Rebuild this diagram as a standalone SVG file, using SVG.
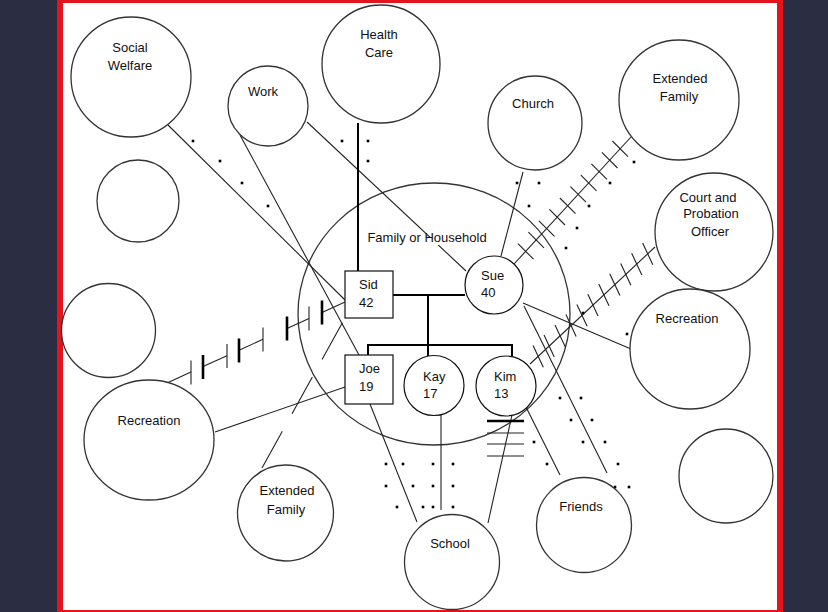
<svg xmlns="http://www.w3.org/2000/svg" width="828" height="612" viewBox="0 0 828 612">
<style>
.c{fill:#fff;stroke:#333;stroke-width:1.3}
.b{fill:#fff;stroke:#111;stroke-width:1.2}
.t{font-family:"Liberation Sans",Arial,sans-serif;font-size:13px;fill:#111}
.m{text-anchor:middle}
.l{stroke:#222;stroke-width:1.1;fill:none}
.k{stroke:#000;stroke-width:2;fill:none}
.h{stroke:#222;stroke-width:1.1}
.hk{stroke:#000;stroke-width:2.6}
.d{fill:#000}
</style>
<defs>
<rect id="dot" x="-1.3" y="-1.3" width="2.6" height="2.6"/>
</defs>
<rect x="0" y="0" width="828" height="612" fill="#2b2d42"/>
<rect x="57" y="0" width="726" height="612" fill="#e3141b"/>
<rect x="63" y="3" width="714" height="607" fill="#fff"/>

<g id="household">
<ellipse class="c" cx="434" cy="314" rx="136" ry="131"/>
</g>

<g id="connectors">
<line class="l" x1="168" y1="125" x2="345" y2="300"/>
<line class="l" x1="240" y1="135" x2="359" y2="355"/>
<line class="l" x1="307" y1="122" x2="466" y2="271"/>
<line class="k" x1="358" y1="123" x2="358" y2="271"/>
<line class="l" x1="523" y1="172" x2="501" y2="256"/>
<line class="l" x1="631" y1="137" x2="514" y2="264"/>
<g class="h">
<line x1="612.4" y1="141" x2="628" y2="156.6"/>
<line x1="601.9" y1="152.4" x2="617.5" y2="168"/>
<line x1="591.4" y1="163.8" x2="607" y2="179.4"/>
<line x1="580.9" y1="175.2" x2="596.5" y2="190.8"/>
<line x1="570.4" y1="186.6" x2="586" y2="202.2"/>
<line x1="559.9" y1="198" x2="575.5" y2="213.6"/>
<line x1="549.4" y1="209.4" x2="565" y2="225"/>
<line x1="538.9" y1="220.8" x2="554.5" y2="236.4"/>
<line x1="528.4" y1="232.2" x2="544" y2="247.8"/>
<line x1="517.9" y1="243.6" x2="533.5" y2="259.2"/>
</g>
<line class="l" x1="655" y1="247" x2="530" y2="364"/>
<g class="h">
<line x1="642.6" y1="242.9" x2="652.8" y2="264.7"/>
<line x1="631.65" y1="253.2" x2="641.85" y2="275"/>
<line x1="620.7" y1="263.4" x2="630.9" y2="285.2"/>
<line x1="609.75" y1="273.7" x2="619.95" y2="295.5"/>
<line x1="598.8" y1="283.9" x2="609" y2="305.7"/>
<line x1="587.85" y1="294.2" x2="598.05" y2="316"/>
<line x1="576.9" y1="304.4" x2="587.1" y2="326.2"/>
<line x1="565.95" y1="314.6" x2="576.15" y2="336.4"/>
<line x1="555" y1="324.9" x2="565.2" y2="346.7"/>
<line x1="544.05" y1="335.1" x2="554.25" y2="356.9"/>
<line x1="533.1" y1="345.4" x2="543.3" y2="367.2"/>
</g>
<line class="l" x1="523" y1="303" x2="631" y2="349"/>
<line class="l" x1="524" y1="306" x2="607" y2="473"/>
<line class="l" x1="525" y1="405" x2="560" y2="475"/>
<line class="l" x1="512" y1="415" x2="488" y2="523"/>
<line class="l" x1="441" y1="415" x2="441" y2="510"/>
<line class="l" x1="370" y1="404" x2="417" y2="522"/>
<line class="hk" x1="487" y1="421" x2="524" y2="421"/>
<line class="h" x1="487" y1="433" x2="524" y2="433"/>
<line class="h" x1="487" y1="444" x2="524" y2="444"/>
<line class="h" x1="487" y1="456" x2="524" y2="456"/>
<line class="l" x1="215" y1="432" x2="345" y2="387"/>
<line class="l" x1="262" y1="468" x2="345" y2="318" stroke-dasharray="42 20"/>
<g class="l">
<line x1="167" y1="383" x2="191" y2="372.1"/>
<line x1="203" y1="366.6" x2="227" y2="355.7"/>
<line x1="239" y1="350.2" x2="263" y2="339.3"/>
<line x1="287" y1="328.4" x2="309" y2="318.4"/>
<line x1="322" y1="312.5" x2="345" y2="302"/>
</g>
<g class="h">
<line x1="191" y1="360.5" x2="191" y2="384.5"/>
<line x1="227" y1="344" x2="227" y2="368"/>
<line x1="263" y1="327.5" x2="263" y2="351.5"/>
<line x1="309" y1="306.5" x2="309" y2="330.5"/>
</g>
<g class="hk">
<line x1="203" y1="355" x2="203" y2="379"/>
<line x1="239" y1="338.5" x2="239" y2="362.5"/>
<line x1="287" y1="316.5" x2="287" y2="340.5"/>
<line x1="322" y1="300.5" x2="322" y2="324.5"/>
</g>
<line class="k" x1="393" y1="295" x2="465" y2="295"/>
<line class="k" x1="428" y1="295" x2="428" y2="357"/>
<line class="k" x1="368" y1="345" x2="512" y2="345"/>
<line class="k" x1="368" y1="344" x2="368" y2="355"/>
<line class="k" x1="512" y1="344" x2="512" y2="357"/>
<g class="d">
<use href="#dot" x="342" y="141"/><use href="#dot" x="368" y="141"/><use href="#dot" x="368" y="161"/>
<use href="#dot" x="193" y="141"/><use href="#dot" x="220" y="161"/><use href="#dot" x="242" y="183"/><use href="#dot" x="268" y="206"/>
<use href="#dot" x="517" y="183"/><use href="#dot" x="539" y="183"/><use href="#dot" x="529" y="206"/>
<use href="#dot" x="634" y="162"/><use href="#dot" x="610" y="183"/><use href="#dot" x="589" y="206"/><use href="#dot" x="577" y="228"/><use href="#dot" x="566" y="248"/>
<use href="#dot" x="583" y="313"/><use href="#dot" x="627" y="334"/>
<use href="#dot" x="560" y="398"/><use href="#dot" x="581" y="398"/><use href="#dot" x="571" y="420"/><use href="#dot" x="592" y="420"/>
<use href="#dot" x="583" y="442"/><use href="#dot" x="605" y="442"/><use href="#dot" x="618" y="464"/><use href="#dot" x="615" y="487"/><use href="#dot" x="629" y="487"/>
<use href="#dot" x="534" y="442"/><use href="#dot" x="547" y="464"/>
<use href="#dot" x="386" y="464"/><use href="#dot" x="403" y="464"/><use href="#dot" x="433" y="464"/><use href="#dot" x="453" y="464"/>
<use href="#dot" x="386" y="486"/><use href="#dot" x="413" y="486"/><use href="#dot" x="433" y="486"/><use href="#dot" x="453" y="486"/>
<use href="#dot" x="397" y="507"/><use href="#dot" x="423" y="507"/><use href="#dot" x="433" y="507"/><use href="#dot" x="453" y="507"/>
</g>
</g>

<g id="household-label">
<rect x="430" y="229" width="60" height="16" fill="#fff"/>
<text class="t m" x="427" y="241.5">Family or Household</text>
</g>

<g id="social-welfare"><circle class="c" cx="131" cy="77" r="60"/><text class="t m" x="130" y="51.5">Social</text><text class="t m" x="130" y="69.5">Welfare</text></g>
<g id="empty-1"><circle class="c" cx="138" cy="201" r="41"/></g>
<g id="empty-2"><circle class="c" cx="108.5" cy="330.5" r="47"/></g>
<g id="work"><circle class="c" cx="268" cy="106" r="40"/><text class="t m" x="263" y="95.5">Work</text></g>
<g id="health-care"><circle class="c" cx="381" cy="64" r="59"/><text class="t m" x="379" y="39">Health</text><text class="t m" x="379" y="57">Care</text></g>
<g id="church"><circle class="c" cx="535" cy="123" r="47"/><text class="t m" x="533" y="107.5">Church</text></g>
<g id="extended-family-1"><circle class="c" cx="679" cy="100" r="60"/><text class="t m" x="680" y="82.5">Extended</text><text class="t m" x="679" y="100.5">Family</text></g>
<g id="court"><circle class="c" cx="714" cy="232" r="59"/><text class="t m" x="708" y="201.5">Court and</text><text class="t m" x="711" y="217.5">Probation</text><text class="t m" x="710" y="235.5">Officer</text></g>
<g id="recreation-1"><circle class="c" cx="690" cy="349" r="60"/><text class="t m" x="687" y="322.5">Recreation</text></g>
<g id="empty-3"><circle class="c" cx="726" cy="476" r="47"/></g>
<g id="friends"><circle class="c" cx="584" cy="525" r="47.5"/><text class="t m" x="581" y="510.5">Friends</text></g>
<g id="school"><circle class="c" cx="452" cy="562" r="47.5"/><text class="t m" x="450" y="547.5">School</text></g>
<g id="extended-family-2"><circle class="c" cx="285.5" cy="513" r="48"/><text class="t m" x="287" y="494.5">Extended</text><text class="t m" x="286" y="513.5">Family</text></g>
<g id="recreation-2"><ellipse class="c" cx="149" cy="440" rx="65" ry="60"/><text class="t m" x="149" y="424.5">Recreation</text></g>

<g id="sid"><rect class="b" x="345" y="271" width="48" height="47"/><text class="t" x="359" y="288.5">Sid</text><text class="t" x="359" y="306.5">42</text></g>
<g id="joe"><rect class="b" x="345" y="355" width="48" height="49"/><text class="t" x="359" y="372.5">Joe</text><text class="t" x="359" y="390.5">19</text></g>
<g id="sue"><circle class="b" cx="494" cy="285" r="29"/><text class="t" x="481" y="279.5">Sue</text><text class="t" x="481" y="296.5">40</text></g>
<g id="kay"><circle class="b" cx="434" cy="385.5" r="30"/><text class="t" x="423" y="380.5">Kay</text><text class="t" x="423" y="397.5">17</text></g>
<g id="kim"><circle class="b" cx="506" cy="386" r="30"/><text class="t" x="494" y="380.5">Kim</text><text class="t" x="494" y="397.5">13</text></g>
</svg>
